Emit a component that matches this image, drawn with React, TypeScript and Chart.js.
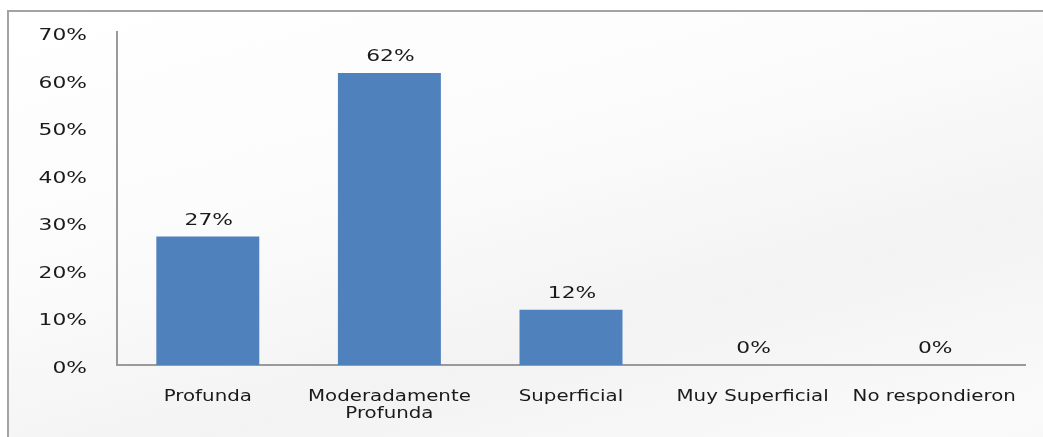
import React, { useEffect, useRef } from "react";
import { Chart, registerables } from "chart.js";

Chart.register(...registerables);

const categories: string[][] = [
  ["Profunda"],
  ["Moderadamente", "Profunda"],
  ["Superficial"],
  ["Muy Superficial"],
  ["No respondieron"],
];
const values = [27.0, 61.4, 11.6, 0, 0];
const dataLabels = ["27%", "62%", "12%", "0%", "0%"];
const yMin = 0;
const yMax = 70;
const yStep = 10;

const FONT = "'DejaVu Sans', Verdana, sans-serif";
const STRETCH = 1.32;
const TEXT_COLOR = "#1a1a1a";

function drawText(
  ctx: CanvasRenderingContext2D,
  text: string,
  x: number,
  y: number,
  align: CanvasTextAlign,
  size: number
) {
  ctx.save();
  ctx.translate(x, y);
  ctx.scale(STRETCH, 1);
  ctx.font = `${size}px ${FONT}`;
  ctx.fillStyle = TEXT_COLOR;
  ctx.textAlign = align;
  ctx.textBaseline = "alphabetic";
  ctx.fillText(text, 0, 0);
  ctx.restore();
}

const textPlugin = {
  id: "stretchedText",
  afterDatasetsDraw(chart: any) {
    const ctx = chart.ctx as CanvasRenderingContext2D;
    const xs = chart.scales.x;
    const ys = chart.scales.y;
    // y tick labels
    ys.ticks.forEach((t: any) => {
      const py = ys.getPixelForValue(t.value);
      drawText(ctx, `${t.value}%`, 87, py + 8, "right", 16.5);
    });
    // x category labels
    categories.forEach((lines, i) => {
      const px = xs.getPixelForValue(i);
      lines.forEach((line, j) => {
        drawText(ctx, line, px, xs.top + 36 + j * 17, "center", 15);
      });
    });
    // data labels
    const meta = chart.getDatasetMeta(0);
    meta.data.forEach((bar: any, i: number) => {
      drawText(ctx, dataLabels[i], bar.x + 1, bar.y - 12, "center", 16.5);
    });
  },
};

export default function App() {
  const ref = useRef<HTMLCanvasElement | null>(null);
  useEffect(() => {
    if (!ref.current) return;
    const chart = new Chart(ref.current, {
      type: "bar",
      data: {
        labels: categories.map((c) => c.join(" ")),
        datasets: [
          {
            data: values,
            backgroundColor: "#4f81bd",
            borderWidth: 0,
            categoryPercentage: 1,
            barPercentage: 0.567,
          },
        ],
      },
      options: {
        animation: false,
        responsive: false,
        maintainAspectRatio: false,
        layout: { padding: { left: 0, top: 32, right: 18, bottom: 0 } },
        plugins: {
          legend: { display: false },
          tooltip: { enabled: false },
        },
        scales: {
          x: {
            grid: { display: false, drawTicks: false },
            border: { display: true, color: "#9a9a9a", width: 2 },
            ticks: { display: false },
            afterFit(scale: any) {
              scale.height = 72;
            },
          },
          y: {
            min: yMin,
            max: yMax,
            grid: { display: false, drawTicks: false },
            border: { display: true, color: "#9a9a9a", width: 2 },
            ticks: { display: false, stepSize: yStep },
            afterFit(scale: any) {
              scale.width = 117;
            },
          },
        },
      },
      plugins: [textPlugin],
    });
    return () => chart.destroy();
  }, []);

  return (
    <div
      style={{
        position: "fixed",
        left: 0,
        top: 0,
        width: 1043,
        height: 437,
        overflow: "hidden",
        background: "#ffffff",
      }}
    >
      <div
        style={{
          position: "absolute",
          left: 7,
          top: 10,
          width: 1100,
          height: 500,
          borderTop: "2px solid #a3a3a3",
          borderLeft: "2px solid #a3a3a3",
          background:
            "linear-gradient(165deg, #ffffff 0%, #fbfbfb 35%, #f3f3f3 60%, #fafafa 85%, #f2f2f2 100%)",
        }}
      />
      <canvas
        ref={ref}
        width={1043}
        height={437}
        style={{ position: "absolute", left: 0, top: 0, width: 1043, height: 437 }}
      />
    </div>
  );
}
